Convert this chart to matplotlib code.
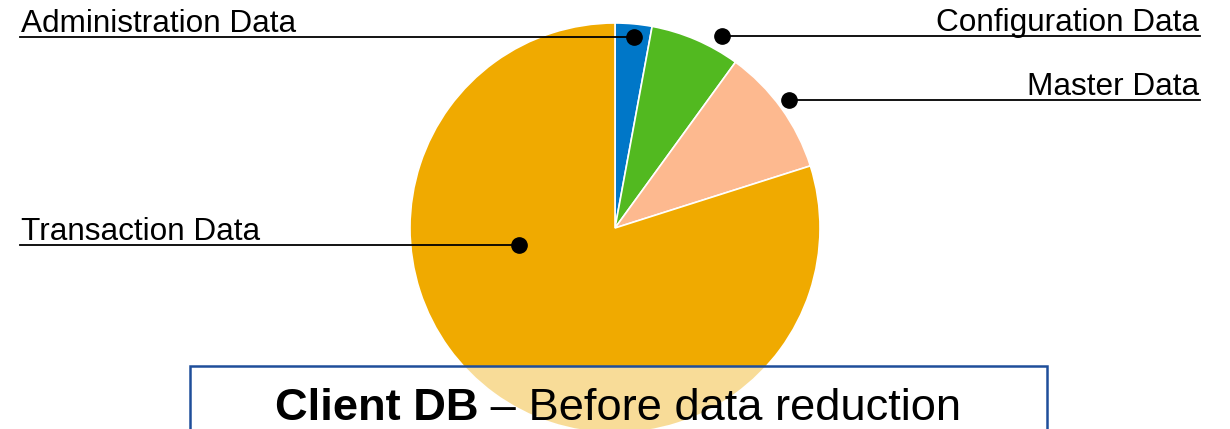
import matplotlib.pyplot as plt
from matplotlib.patches import Rectangle

plt.rcParams['font.family'] = ['Liberation Sans', 'DejaVu Sans']

labels = ['Administration Data', 'Configuration Data', 'Master Data', 'Transaction Data']
shares = [2.9, 7.1, 10.1, 79.9]
colors = ['#0077C8', '#52B920', '#FDB98F', '#F0AA00']

# label anchor (dot) and text end, in pixel coords from the top left
dots = [(634, 37), (722, 36), (789, 100), (519, 245)]
text_x = [20, 1200, 1200, 20]
sides = ['left', 'right', 'right', 'left']

H = 429
fig = plt.figure(figsize=(12.3, 4.29), dpi=100)
ax = fig.add_axes([0, 0, 1, 1])
ax.set_xlim(0, 1230)
ax.set_ylim(0, H)
ax.axis('off')

ax.pie(shares, colors=colors, startangle=90, counterclock=False,
       center=(615, H - 228), radius=205,
       wedgeprops=dict(edgecolor='white', linewidth=1.2))
ax.set_xlim(0, 1230)
ax.set_ylim(0, H)

for lab, (dx, dy), tx, side in zip(labels, dots, text_x, sides):
    y = H - dy
    ax.plot([tx, dx], [y, y], color='black', lw=1.3, zorder=5)
    ax.plot(dx, y, 'o', color='black', ms=11, zorder=6)
    ax.text(tx + (1 if side == 'left' else -1), y + 5, lab, ha=side, va='baseline',
            fontsize=22.7, color='black', zorder=6)

ax.add_patch(Rectangle((190, -10), 857, H - 366 + 10, facecolor=(1, 1, 1, 0.6),
                       edgecolor='#1F4E9A', lw=1.8, zorder=7))
t1 = ax.text(275, H - 420, 'Client DB', fontsize=32.6, fontweight='bold',
             ha='left', va='baseline', zorder=8)
fig.canvas.draw()
bb = t1.get_window_extent().transformed(ax.transData.inverted())
ax.text(bb.x1, H - 420, ' \u2013 Before data reduction', fontsize=32.6,
        ha='left', va='baseline', zorder=8)

fig.savefig('out.png', dpi=100)
